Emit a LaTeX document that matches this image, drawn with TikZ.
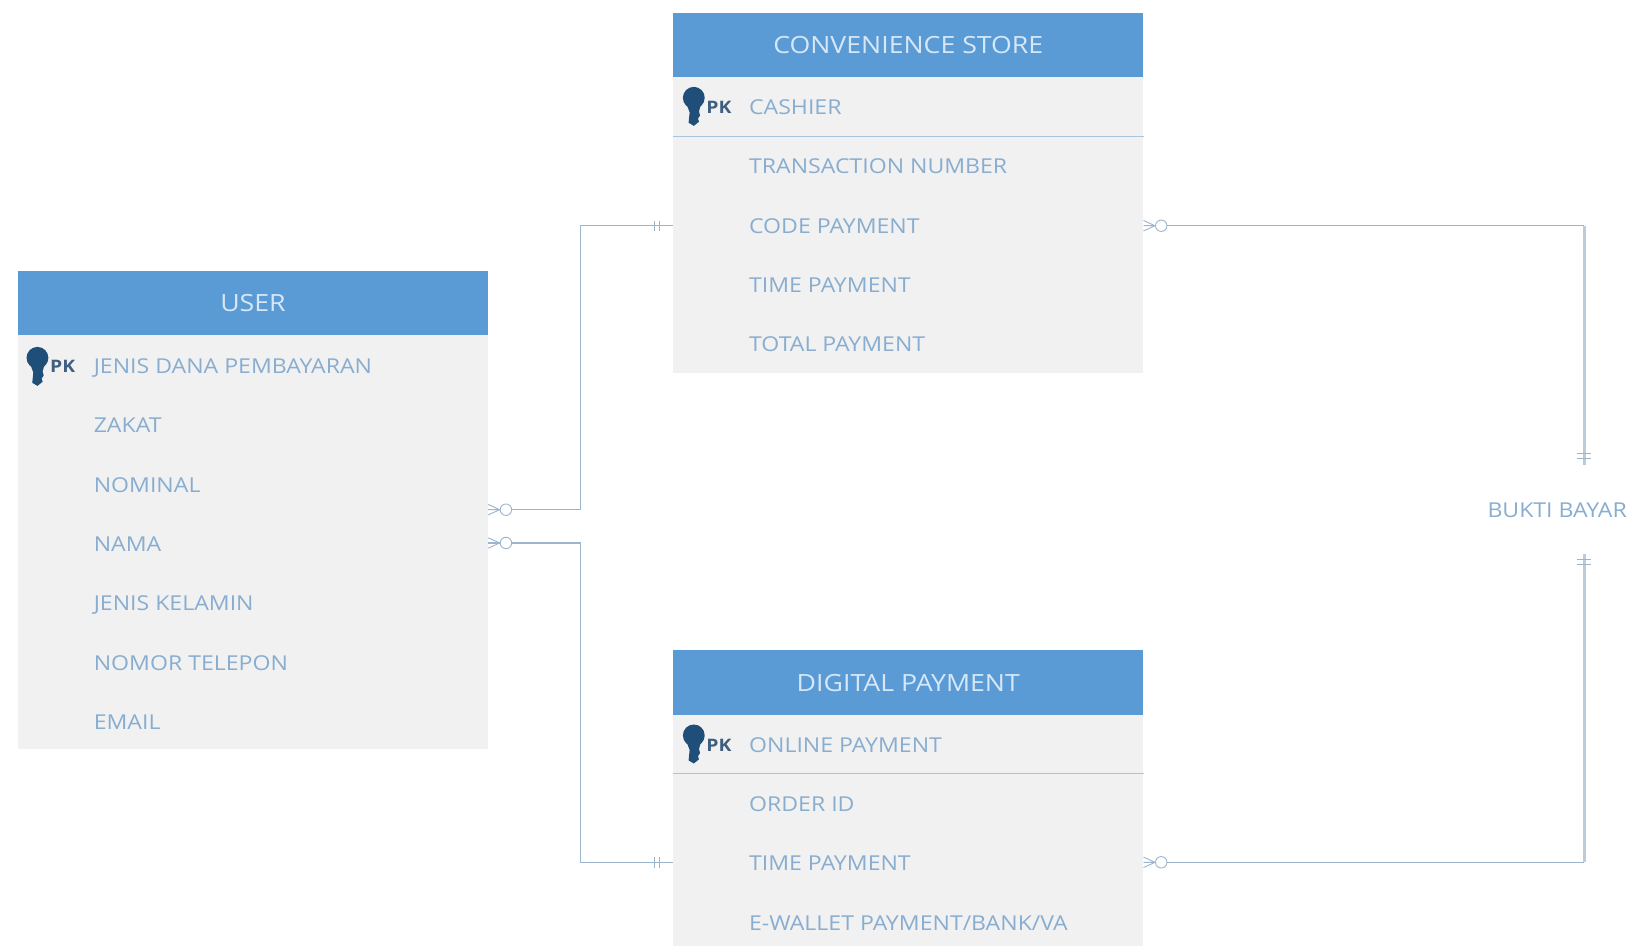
\documentclass[tikz,border=0pt]{standalone}
\usepackage{fontspec}
\setmainfont{Open Sans}
\newfontfamily\widefont{Open Sans}[FakeStretch=1.126]
\definecolor{hdrblue}{HTML}{5B9BD5}
\definecolor{bodygray}{HTML}{F1F1F1}
\definecolor{rowtext}{HTML}{88ADD0}
\definecolor{hdrtext}{HTML}{D6E8F8}
\definecolor{keyblue}{HTML}{1F4E79}
\definecolor{pktext}{HTML}{3F5F80}
\definecolor{linecol}{HTML}{9DB5CC}
\definecolor{vertcol}{HTML}{BCCBDA}
\definecolor{divcol}{HTML}{A9C4DE}
\tikzset{
  x=1.0402pt, y=-1.0402pt,
  hdrbox/.style={fill=hdrblue, draw=none, minimum width={452*1.0402pt}, minimum height={62*1.0402pt}, inner sep=0pt, text=hdrtext, font=\widefont\fontsize{23.7}{26}\selectfont},
  bodybox/.style={fill=bodygray, draw=none, minimum width={452*1.0402pt}, inner sep=0pt, anchor=north west},
  rowtext/.style={anchor=west, inner sep=0pt, text height=15pt, text depth=0pt, text=rowtext, font=\widefont\fontsize{20.5}{23}\selectfont},
  pktext/.style={anchor=west, inner sep=0pt, text height=13pt, text depth=0pt, text=pktext, font=\widefont\fontsize{17.2}{20}\selectfont\bfseries},
  conn/.style={draw=linecol, line width=1.3pt},
  thickconn/.style={draw=vertcol, line width=2.6pt},
  divider/.style={draw=divcol, line width=1pt},
  pics/zmany/.style={code={
    \draw[conn, line width=0.9pt] (0,-5) -- (11,0) -- (0,5) (0,0) -- (11,0);
    \draw[conn, line width=0.9pt, fill=white] (17,0) circle (5.5);
  }},
  pics/oneone/.style={code={
    \draw[conn, line width=0.9pt] (0,-5) -- (0,5) (5,-5) -- (5,5);
  }},
  pics/oneonev/.style={code={
    \draw[conn, line width=0.9pt] (-7,0) -- (7,0) (-7,5) -- (7,5);
  }},
  pics/keyicon/.style={code={
    \fill[keyblue] (0,-6) circle (10.5);
    \fill[keyblue] (-7,0) -- (7,0) -- (5,7) -- (6,11) -- (4,14) -- (5,17) -- (0,21) -- (-5,18) -- (-4,8) -- cycle;
  }}
}
\begin{document}
\begin{tikzpicture}
\useasboundingbox[fill=white] (0,0) rectangle (1568,909.4);
% USER
\node[bodybox, minimum height={398*1.0402pt}] (ub) at (17,322) {};
\node[hdrbox, anchor=north west] (uh) at (17,260) {USER};
\pic at (36,350) {keyicon};
\node[pktext] (upk) at (48,352) {PK};
\node[rowtext] (u1) at (90,352) {JENIS DANA PEMBAYARAN};
\node[rowtext] (u2) at (90,409) {ZAKAT};
\node[rowtext] (u3) at (90,466) {NOMINAL};
\node[rowtext] (u4) at (90,523) {NAMA};
\node[rowtext] (u5) at (90,580) {JENIS KELAMIN};
\node[rowtext] (u6) at (90,637) {NOMOR TELEPON};
\node[rowtext] (u7) at (90,694) {EMAIL};
% CONVENIENCE STORE
\node[bodybox, minimum height={284*1.0402pt}] (cb) at (647,74) {};
\node[hdrbox, anchor=north west] (ch) at (647,12) {CONVENIENCE STORE};
\pic at (667,100) {keyicon};
\node[pktext] (cpk) at (679,103) {PK};
\node[rowtext] (c1) at (720,103) {CASHIER};
\draw[divider] (cb.west |- 0,131) -- (cb.east |- 0,131);
\node[rowtext] (c2) at (720,160) {TRANSACTION NUMBER};
\node[rowtext] (c3) at (720,217) {CODE PAYMENT};
\node[rowtext] (c4) at (720,274) {TIME PAYMENT};
\node[rowtext] (c5) at (720,331) {TOTAL PAYMENT};
% DIGITAL PAYMENT
\node[bodybox, minimum height={224*1.0402pt}] (db) at (647,686) {};
\node[hdrbox, anchor=north west] (dh) at (647,625) {DIGITAL PAYMENT};
\pic at (667,713) {keyicon};
\node[pktext] (dpk) at (679,716) {PK};
\node[rowtext] (d1) at (720,716) {ONLINE PAYMENT};
\draw[divider] (db.west |- 0,744) -- (db.east |- 0,744);
\node[rowtext] (d2) at (720,773) {ORDER ID};
\node[rowtext] (d3) at (720,830) {TIME PAYMENT};
\node[rowtext] (d4) at (720,887) {E-WALLET PAYMENT/BANK/VA};
% BUKTI BAYAR
\node[rowtext, anchor=center] (bb) at (1497,490) {BUKTI BAYAR};
% port coordinates
\coordinate (pu1) at (ub.east |- 0,490);
\coordinate (pu2) at (ub.east |- 0,522);
\coordinate (pc) at (cb.west |- 0,217);
\coordinate (pd) at (db.west |- 0,829);
\coordinate (pcr) at (cb.east |- 0,217);
\coordinate (pdr) at (db.east |- 0,829);
\coordinate (bbt) at (1523,447);
\coordinate (bbb) at (1523,533);
\coordinate (elbu) at (558,490);
\coordinate (elbl) at (558,522);
\coordinate (elcr) at (1523,217);
\coordinate (eldr) at (1523,829);
% connectors
\draw[conn] (pu1) -- (elbu) -- (elbu |- pc) -- (pc);
\draw[conn] (pu2) -- (elbl) -- (elbl |- pd) -- (pd);
\draw[thickconn] (elcr) -- (bbt);
\draw[thickconn] (eldr) -- (bbb);
\draw[conn] (pcr) -- (elcr);
\draw[conn] (pdr) -- (eldr);
% markers
\pic at (pu1) {zmany};
\pic at (pu2) {zmany};
\pic at (pcr) {zmany};
\pic at (pdr) {zmany};
\pic at (629,217) {oneone};
\pic at (629,829) {oneone};
\pic at (1523,436) {oneonev};
\pic at (1523,538) {oneonev};
\end{tikzpicture}
\end{document}
